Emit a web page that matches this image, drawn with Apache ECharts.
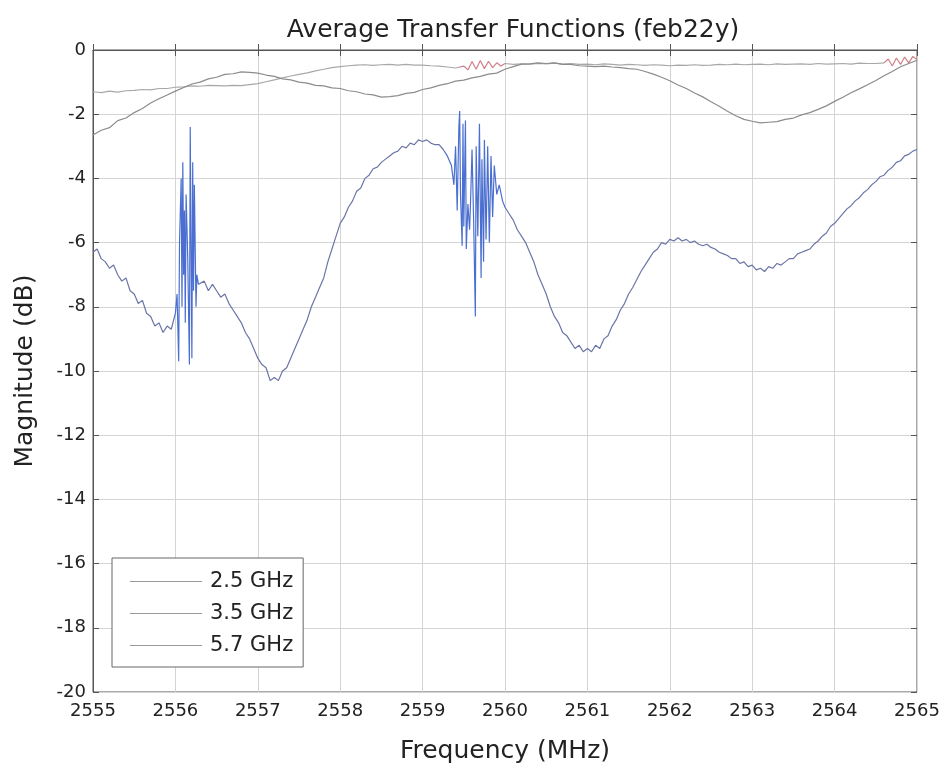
<!DOCTYPE html>
<html>
<head>
<meta charset="utf-8">
<script src="https://cdn.jsdelivr.net/npm/echarts@6/dist/echarts.min.js"></script>
<style>
html,body{margin:0;padding:0;background:#fff;}
#chart{width:944px;height:775px;}
</style>
</head>
<body>
<div id="chart"></div>
<script>
// ---- data ----
const seriesNames = ['2.5 GHz', '3.5 GHz', '5.7 GHz'];
const xTicks = [2555, 2556, 2557, 2558, 2559, 2560, 2561, 2562, 2563, 2564, 2565];
const yTicks = [0, -2, -4, -6, -8, -10, -12, -14, -16, -18, -20];

const freq25 = [
2555.00,2555.05,2555.10,2555.15,2555.20,2555.25,2555.30,2555.35,2555.40,2555.45,
2555.50,2555.55,2555.60,2555.65,2555.70,2555.75,2555.80,2555.85,2555.90,2555.95,
2556.00,2556.02,2556.04,2556.05,2556.07,2556.08,2556.09,2556.10,2556.11,2556.12,
2556.13,2556.15,2556.17,2556.18,2556.19,2556.20,2556.21,2556.22,2556.23,2556.25,
2556.26,2556.28,
2556.30,2556.35,2556.40,2556.45,2556.50,2556.55,2556.60,2556.65,2556.70,2556.75,
2556.80,2556.85,2556.90,2556.95,2557.00,2557.05,2557.10,2557.15,2557.20,2557.25,
2557.30,2557.35,2557.40,2557.45,2557.50,2557.55,2557.60,2557.65,2557.70,2557.75,
2557.80,2557.85,2557.90,2557.95,2558.00,2558.05,2558.10,2558.15,2558.20,2558.25,
2558.30,2558.35,2558.40,2558.45,2558.50,2558.55,2558.60,2558.65,2558.70,2558.75,
2558.80,2558.85,2558.90,2558.95,2559.00,2559.05,2559.10,2559.15,2559.20,2559.25,
2559.30,2559.35,2559.38,2559.40,2559.42,2559.44,2559.45,2559.46,2559.48,2559.49,
2559.50,2559.52,2559.53,2559.55,2559.57,2559.58,2559.60,2559.62,2559.64,2559.65,
2559.67,2559.69,2559.71,2559.72,2559.74,2559.75,2559.77,2559.79,2559.81,2559.83,
2559.85,2559.87,2559.90,2559.93,2559.97,2560.00,
2560.05,2560.10,2560.15,2560.20,2560.25,2560.30,2560.35,2560.40,2560.45,2560.50,
2560.55,2560.60,2560.65,2560.70,2560.75,2560.80,2560.85,2560.90,2560.95,2561.00,
2561.05,2561.10,2561.15,2561.20,2561.25,2561.30,2561.35,2561.40,2561.45,2561.50,
2561.55,2561.60,2561.65,2561.70,2561.75,2561.80,2561.85,2561.90,2561.95,2562.00,
2562.05,2562.10,2562.15,2562.20,2562.25,2562.30,2562.35,2562.40,2562.45,2562.50,
2562.55,2562.60,2562.65,2562.70,2562.75,2562.80,2562.85,2562.90,2562.95,2563.00,
2563.05,2563.10,2563.15,2563.20,2563.25,2563.30,2563.35,2563.40,2563.45,2563.50,
2563.55,2563.60,2563.65,2563.70,2563.75,2563.80,2563.85,2563.90,2563.95,2564.00,
2564.05,2564.10,2564.15,2564.20,2564.25,2564.30,2564.35,2564.40,2564.45,2564.50,
2564.55,2564.60,2564.65,2564.70,2564.75,2564.80,2564.85,2564.90,2564.95,2565.00
];
const mag25 = [
-6.3,-6.2,-6.5,-6.6,-6.8,-6.7,-7.0,-7.2,-7.1,-7.5,
-7.6,-7.9,-7.8,-8.2,-8.3,-8.6,-8.5,-8.8,-8.6,-8.7,
-8.2,-7.6,-9.7,-6.0,-4.0,-8.0,-3.5,-7.0,-5.0,-8.5,
-4.5,-6.5,-9.8,-2.4,-6.0,-9.6,-3.5,-7.5,-4.2,-8.0,
-7.0,-7.3,
-7.3,-7.2,-7.5,-7.3,-7.5,-7.7,-7.6,-7.9,-8.1,-8.3,
-8.5,-8.8,-9.0,-9.3,-9.6,-9.8,-9.9,-10.3,-10.2,-10.3,
-10.0,-9.9,-9.6,-9.3,-9.0,-8.7,-8.4,-8.0,-7.7,-7.4,
-7.1,-6.6,-6.2,-5.8,-5.4,-5.2,-4.9,-4.7,-4.4,-4.3,
-4.0,-3.9,-3.7,-3.65,-3.5,-3.4,-3.3,-3.2,-3.15,-3.0,
-3.05,-2.9,-2.95,-2.8,-2.85,-2.8,-2.9,-2.95,-2.95,-3.1,
-3.3,-3.6,-4.2,-3.0,-5.0,-2.4,-1.9,-4.5,-6.1,-2.3,
-5.5,-2.2,-6.2,-4.8,-5.6,-4.9,-3.1,-5.4,-8.3,-3.0,
-5.8,-2.3,-7.1,-3.4,-6.6,-2.8,-5.9,-3.0,-6.0,-3.3,
-5.2,-3.6,-4.5,-4.2,-4.7,-4.9,
-5.1,-5.3,-5.6,-5.8,-6.0,-6.3,-6.6,-7.0,-7.3,-7.6,
-8.0,-8.3,-8.5,-8.8,-8.9,-9.1,-9.3,-9.2,-9.4,-9.3,
-9.4,-9.2,-9.3,-9.0,-8.9,-8.6,-8.4,-8.1,-7.9,-7.6,
-7.4,-7.15,-6.9,-6.7,-6.5,-6.3,-6.2,-6.0,-6.05,-5.9,
-5.95,-5.85,-5.95,-5.9,-6.0,-5.95,-6.05,-6.1,-6.05,-6.15,
-6.2,-6.3,-6.35,-6.4,-6.5,-6.5,-6.65,-6.6,-6.75,-6.7,
-6.85,-6.8,-6.9,-6.75,-6.8,-6.65,-6.7,-6.6,-6.5,-6.5,
-6.35,-6.3,-6.25,-6.2,-6.05,-5.95,-5.8,-5.7,-5.5,-5.4,
-5.25,-5.1,-4.95,-4.85,-4.7,-4.6,-4.45,-4.35,-4.2,-4.1,
-3.95,-3.9,-3.75,-3.65,-3.5,-3.45,-3.3,-3.25,-3.15,-3.1
];

const freq35 = [
2555.0,2555.1,2555.2,2555.3,2555.4,2555.5,2555.6,2555.7,2555.8,2555.9,
2556.0,2556.1,2556.2,2556.3,2556.4,2556.5,2556.6,2556.7,2556.8,2556.9,
2557.0,2557.1,2557.2,2557.3,2557.4,2557.5,2557.6,2557.7,2557.8,2557.9,
2558.0,2558.1,2558.2,2558.3,2558.4,2558.5,2558.6,2558.7,2558.8,2558.9,
2559.0,2559.1,2559.2,2559.3,2559.4,2559.5,2559.6,2559.7,2559.8,2559.9,
2560.0,2560.1,2560.2,2560.3,2560.4,2560.5,2560.6,2560.7,2560.8,2560.9,
2561.0,2561.1,2561.2,2561.3,2561.4,2561.5,2561.6,2561.7,2561.8,2561.9,
2562.0,2562.1,2562.2,2562.3,2562.4,2562.5,2562.6,2562.7,2562.8,2562.9,
2563.0,2563.1,2563.2,2563.3,2563.4,2563.5,2563.6,2563.7,2563.8,2563.9,
2564.0,2564.1,2564.2,2564.3,2564.4,2564.5,2564.6,2564.7,2564.8,2564.9,2565.0
];
const mag35 = [
-2.65,-2.5,-2.42,-2.2,-2.12,-1.95,-1.82,-1.65,-1.52,-1.4,
-1.28,-1.17,-1.06,-1.0,-0.9,-0.85,-0.76,-0.74,-0.68,-0.7,
-0.72,-0.78,-0.82,-0.9,-0.93,-1.0,-1.03,-1.1,-1.12,-1.18,
-1.2,-1.27,-1.3,-1.37,-1.4,-1.47,-1.45,-1.42,-1.35,-1.32,
-1.23,-1.18,-1.1,-1.05,-0.97,-0.94,-0.87,-0.82,-0.75,-0.72,
-0.6,-0.52,-0.44,-0.43,-0.4,-0.42,-0.4,-0.45,-0.45,-0.49,
-0.5,-0.52,-0.5,-0.53,-0.55,-0.58,-0.6,-0.67,-0.75,-0.85,
-0.96,-1.09,-1.2,-1.34,-1.46,-1.61,-1.75,-1.91,-2.05,-2.16,
-2.22,-2.27,-2.25,-2.23,-2.16,-2.12,-2.02,-1.95,-1.85,-1.74,
-1.6,-1.47,-1.33,-1.21,-1.08,-0.95,-0.8,-0.67,-0.52,-0.42,-0.32
];

const freq57 = [
2555.0,2555.1,2555.2,2555.3,2555.4,2555.5,2555.6,2555.7,2555.8,2555.9,
2556.0,2556.1,2556.2,2556.3,2556.4,2556.5,2556.6,2556.7,2556.8,2556.9,
2557.0,2557.1,2557.2,2557.3,2557.4,2557.5,2557.6,2557.7,2557.8,2557.9,
2558.0,2558.1,2558.2,2558.3,2558.4,2558.5,2558.6,2558.7,2558.8,2558.9,
2559.0,2559.1,2559.2,2559.3,2559.4,2559.5,2559.55,2559.6,2559.65,2559.7,
2559.75,2559.8,2559.85,2559.9,2559.95,2560.0,2560.1,2560.2,2560.3,2560.4,
2560.5,2560.6,2560.7,2560.8,2560.9,2561.0,2561.1,2561.2,2561.3,2561.4,
2561.5,2561.6,2561.7,2561.8,2561.9,2562.0,2562.1,2562.2,2562.3,2562.4,
2562.5,2562.6,2562.7,2562.8,2562.9,2563.0,2563.1,2563.2,2563.3,2563.4,
2563.5,2563.6,2563.7,2563.8,2563.9,2564.0,2564.1,2564.2,2564.3,2564.4,
2564.5,2564.6,2564.65,2564.7,2564.75,2564.8,2564.85,2564.9,2564.95,2565.0
];
const mag57 = [
-1.3,-1.33,-1.28,-1.31,-1.27,-1.26,-1.23,-1.24,-1.2,-1.2,
-1.16,-1.15,-1.12,-1.13,-1.1,-1.11,-1.12,-1.1,-1.11,-1.08,
-1.05,-0.99,-0.93,-0.87,-0.81,-0.76,-0.71,-0.65,-0.6,-0.55,
-0.52,-0.49,-0.47,-0.46,-0.48,-0.46,-0.45,-0.47,-0.45,-0.47,
-0.47,-0.49,-0.5,-0.53,-0.56,-0.5,-0.62,-0.36,-0.6,-0.33,
-0.58,-0.35,-0.55,-0.4,-0.5,-0.42,-0.45,-0.43,-0.44,-0.42,
-0.43,-0.41,-0.44,-0.42,-0.45,-0.44,-0.46,-0.43,-0.45,-0.47,
-0.45,-0.46,-0.48,-0.46,-0.47,-0.49,-0.47,-0.48,-0.46,-0.48,
-0.47,-0.45,-0.46,-0.44,-0.46,-0.45,-0.44,-0.46,-0.43,-0.45,
-0.44,-0.43,-0.45,-0.42,-0.44,-0.43,-0.42,-0.44,-0.41,-0.42,
-0.42,-0.4,-0.28,-0.5,-0.25,-0.45,-0.22,-0.4,-0.2,-0.3
];

const titleText = 'Average Transfer Functions (feb22y)';
const xName = 'Frequency (MHz)';
const yName = 'Magnitude (dB)';

// ---- chart ----
const pairs = (xs, ys) => xs.map((x, i) => [x, ys[i]]);
const chart = echarts.init(document.getElementById('chart'), null, {renderer: 'canvas'});
const font = 'DejaVu Sans, sans-serif';
const gridLine = {show: true, lineStyle: {color: '#d4d4d4', width: 1}};

chart.setOption({
  backgroundColor: '#ffffff',
  animation: false,
  title: {
    text: titleText, left: 508, top: 13, textAlign: 'center',
    textStyle: {fontFamily: font, fontSize: 25, fontWeight: 'normal', color: '#222'}
  },
  grid: {left: 93, right: 27, top: 50, bottom: 83, show: true, borderColor: '#555', borderWidth: 1},
  xAxis: [{
    type: 'value', min: 2555, max: 2565, interval: 1,
    name: xName, nameLocation: 'middle', nameGap: 47,
    nameTextStyle: {fontFamily: font, fontSize: 25, color: '#222'},
    axisLine: {show: true, lineStyle: {color: '#555'}},
    axisTick: {show: true, inside: true, length: 6, lineStyle: {color: '#555'}},
    axisLabel: {fontFamily: font, fontSize: 18, color: '#222', margin: 10,
      formatter: v => xTicks.includes(v) ? String(v) : ''},
    splitLine: gridLine
  }, {
    type: 'value', position: 'top', min: 2555, max: 2565, interval: 1,
    axisLine: {show: false}, axisLabel: {show: false}, splitLine: {show: false},
    axisTick: {show: true, inside: true, length: 6, lineStyle: {color: '#555'}}
  }],
  yAxis: [{
    type: 'value', min: -20, max: 0, interval: 2,
    name: yName, nameLocation: 'middle', nameGap: 55,
    nameTextStyle: {fontFamily: font, fontSize: 25, color: '#222'},
    axisLine: {show: true, lineStyle: {color: '#555'}},
    axisTick: {show: true, inside: true, length: 6, lineStyle: {color: '#555'}},
    axisLabel: {fontFamily: font, fontSize: 18, color: '#222', margin: 7,
      formatter: v => yTicks.includes(v) ? String(v) : ''},
    splitLine: gridLine
  }, {
    type: 'value', position: 'right', min: -20, max: 0, interval: 2,
    axisLine: {show: false}, axisLabel: {show: false}, splitLine: {show: false},
    axisTick: {show: true, inside: true, length: 6, lineStyle: {color: '#555'}}
  }],
  legend: {
    orient: 'vertical', left: 112, top: 558,
    padding: [13, 10, 11, 18], itemGap: 11,
    itemWidth: 72, itemHeight: 1, icon: 'rect',
    borderColor: '#666', borderWidth: 1, backgroundColor: '#fff',
    textStyle: {fontFamily: font, fontSize: 21, color: '#222', padding: [0, 0, 0, 3]},
    data: seriesNames.map(n => ({name: n, itemStyle: {color: '#9a9a9a'}}))
  },
  visualMap: [{
    show: false, type: 'piecewise', seriesIndex: 0, dimension: 0,
    pieces: [
      {min: 2554, max: 2555.98, color: '#6b74a6'},
      {min: 2555.98, max: 2556.29, color: '#4a6fd0'},
      {min: 2556.29, max: 2559.27, color: '#6b74a6'},
      {min: 2559.27, max: 2560.01, color: '#4a6fd0'},
      {min: 2560.01, max: 2566, color: '#6b74a6'}
    ]
  }, {
    show: false, type: 'piecewise', seriesIndex: 2, dimension: 0,
    pieces: [
      {min: 2554, max: 2559.45, color: '#a8a8a8'},
      {min: 2559.45, max: 2560.0, color: '#d08088'},
      {min: 2560.0, max: 2564.6, color: '#a8a8a8'},
      {min: 2564.6, max: 2566, color: '#d08088'}
    ]
  }],
  series: [
    {name: seriesNames[0], type: 'line', data: pairs(freq25, mag25), showSymbol: false,
     lineStyle: {width: 1.2}, color: '#6b74a6', z: 5},
    {name: seriesNames[1], type: 'line', data: pairs(freq35, mag35), showSymbol: false,
     lineStyle: {width: 1.2, color: '#8c8c8c'}, color: '#8c8c8c', z: 4},
    {name: seriesNames[2], type: 'line', data: pairs(freq57, mag57), showSymbol: false,
     lineStyle: {width: 1.2}, color: '#a8a8a8', z: 3}
  ]
});
</script>
</body>
</html>
